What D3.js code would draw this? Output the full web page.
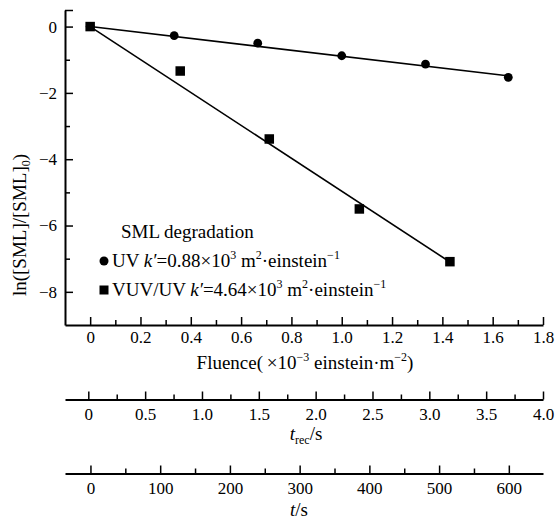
<!DOCTYPE html>
<html>
<head>
<meta charset="utf-8">
<script src="https://cdn.jsdelivr.net/npm/d3@7"></script>
<style>
  body { margin: 0; background: #fff; }
  svg text { font-family: "Liberation Serif", "Times New Roman", serif; fill: #000; }
</style>
</head>
<body>
<svg id="chart" width="558" height="520"></svg>
<script>
'use strict';

// data
const uvFluence = [0, 0.334, 0.666, 1.0, 1.333, 1.662];
const uvLn = [0, -0.27, -0.50, -0.88, -1.13, -1.53];
const vuvFluence = [0, 0.358, 0.712, 1.07, 1.43];
const vuvLn = [0, -1.34, -3.39, -5.50, -7.09];
const uvFitX = [0, 1.667];
const uvFitY = [0, -1.49];
const vuvFitX = [0, 1.43];
const vuvFitY = [0, -7.1];

// ticks
const fluenceTicks = [0, 0.2, 0.4, 0.6, 0.8, 1.0, 1.2, 1.4, 1.6, 1.8];
const fluenceMinor = [0.1, 0.3, 0.5, 0.7, 0.9, 1.1, 1.3, 1.5, 1.7];
const lnTicks = [0, -2, -4, -6, -8];
const lnMinor = [-1, -3, -5, -7];
const trecTicks = [0, 0.5, 1.0, 1.5, 2.0, 2.5, 3.0, 3.5, 4.0];
const trecMinor = [0.25, 0.75, 1.25, 1.75, 2.25, 2.75, 3.25, 3.75];
const tTicks = [0, 100, 200, 300, 400, 500, 600];
const tMinor = [50, 150, 250, 350, 450, 550];

const FONT = 17;      // tick labels
const TFONT = 19;     // titles, legend
const SUP = 12;
const MAJOR = 8;
const MINOR = 5;

const svg = d3.select("#chart");

const x = d3.scaleLinear().domain([-0.1, 1.8]).range([65, 543]);
const y = d3.scaleLinear().domain([-9, 0.5]).range([325, 10]);
const xRec = d3.scaleLinear().domain([-0.205, 4.0]).range([65, 543]);
const xT = d3.scaleLinear().domain([-36.5, 649]).range([65, 543]);

const fmtDec = d => d === 0 ? "0" : d3.format(".1f")(d);

function styleAxis(g) {
   g.attr("font-family", null);
   g.selectAll("text").attr("font-size", FONT).attr("fill", "#000")
      .style("font-family", '"Liberation Serif", "Times New Roman", serif');
   g.select(".domain").attr("stroke-width", 2).attr("stroke", "#000");
   g.selectAll(".tick line").attr("stroke-width", 1.5).attr("stroke", "#000");
}

function bottomAxis(scale, yPos, major, minor, fmt, pad) {
   const g = svg.append("g").attr("transform", `translate(0,${yPos})`);
   g.append("g")
      .call(d3.axisBottom(scale).tickValues(minor).tickSize(-MINOR).tickFormat(""))
      .call(a => a.select(".domain").remove())
      .call(styleAxis);
   g.append("g")
      .call(d3.axisBottom(scale).tickValues(major).tickSizeInner(-MAJOR).tickSizeOuter(0)
         .tickPadding(pad).tickFormat(fmt))
      .call(styleAxis);
   return g;
}

// main x axis
bottomAxis(x, 325, fluenceTicks, fluenceMinor, fmtDec, 6);

// main y axis
const yg = svg.append("g").attr("transform", "translate(65,0)");
yg.append("g")
   .call(d3.axisLeft(y).tickValues(lnMinor.concat([0.5])).tickSize(-MINOR).tickFormat(""))
   .call(a => a.select(".domain").remove())
   .call(a => a.selectAll(".tick").filter(d => d === 0.5).select("line").attr("x2", MAJOR))
   .call(styleAxis);
yg.append("g")
   .call(d3.axisLeft(y).tickValues(lnTicks).tickSizeInner(-MAJOR).tickSizeOuter(0)
      .tickPadding(8).tickFormat(d3.format("d")))
   .call(styleAxis);

// secondary axes
bottomAxis(xRec, 399.5, trecTicks, trecMinor, fmtDec, 8);
bottomAxis(xT, 473.5, tTicks, tMinor, d3.format("d"), 8);

// fit lines
const line = d3.line().x(d => x(d[0])).y(d => y(d[1]));
svg.append("path")
   .datum(uvFitX.map((v, i) => [v, uvFitY[i]]))
   .attr("d", line).attr("fill", "none").attr("stroke", "#000").attr("stroke-width", 1.6);
svg.append("path")
   .datum(vuvFitX.map((v, i) => [v, vuvFitY[i]]))
   .attr("d", line).attr("fill", "none").attr("stroke", "#000").attr("stroke-width", 1.6);

// markers
svg.append("g").selectAll("circle")
   .data(uvFluence.map((v, i) => [v, uvLn[i]]))
   .enter().append("circle")
   .attr("cx", d => x(d[0])).attr("cy", d => y(d[1])).attr("r", 4.4)
   .attr("fill", "#000");

const SQ = 9.5;
svg.append("g").selectAll("rect")
   .data(vuvFluence.map((v, i) => [v, vuvLn[i]]))
   .enter().append("rect")
   .attr("x", d => x(d[0]) - SQ / 2).attr("y", d => y(d[1]) - SQ / 2)
   .attr("width", SQ).attr("height", SQ)
   .attr("fill", "#000");

// axis titles
const t1 = svg.append("text").attr("x", 305).attr("y", 369).attr("text-anchor", "middle").attr("font-size", TFONT);
t1.append("tspan").text("Fluence(\u2009×10");
t1.append("tspan").attr("font-size", SUP).attr("dy", -8).text("−3");
t1.append("tspan").attr("dy", 8).text(" einstein·m");
t1.append("tspan").attr("font-size", SUP).attr("dy", -8).text("−2");
t1.append("tspan").attr("dy", 8).text(")");

const t2 = svg.append("text").attr("x", 306).attr("y", 440).attr("text-anchor", "middle").attr("font-size", TFONT);
t2.append("tspan").attr("font-style", "italic").text("t");
t2.append("tspan").attr("font-size", SUP).attr("dy", 4).text("rec");
t2.append("tspan").attr("dy", -4).text("/s");

const t3 = svg.append("text").attr("x", 299).attr("y", 516).attr("text-anchor", "middle").attr("font-size", TFONT);
t3.append("tspan").attr("font-style", "italic").text("t");
t3.append("tspan").text("/s");

const yl = svg.append("text").attr("transform", "translate(26,225) rotate(-90)")
   .attr("text-anchor", "middle").attr("font-size", TFONT);
yl.append("tspan").text("ln([SML]/[SML]");
yl.append("tspan").attr("font-size", SUP).attr("dy", 4).text("0");
yl.append("tspan").attr("dy", -4).text(")");

// legend
const legend = svg.append("g");
legend.append("text").attr("x", 121).attr("y", 238).attr("font-size", TFONT).text("SML degradation");

function legendLabel(yPos, prefix, value) {
   const t = legend.append("text").attr("x", 112).attr("y", yPos).attr("font-size", TFONT);
   t.append("tspan").text(prefix);
   t.append("tspan").attr("font-style", "italic").text("k′");
   t.append("tspan").text("=" + value + "×10");
   t.append("tspan").attr("font-size", SUP).attr("dy", -8).text("3");
   t.append("tspan").attr("dy", 8).text(" m");
   t.append("tspan").attr("font-size", SUP).attr("dy", -8).text("2");
   t.append("tspan").attr("dy", 8).text("·einstein");
   t.append("tspan").attr("font-size", SUP).attr("dy", -8).text("−1");
}

legend.append("circle").attr("cx", 104).attr("cy", 261).attr("r", 4.5).attr("fill", "#000");
legendLabel(267, "UV ", "0.88");

legend.append("rect").attr("x", 104 - 4.5).attr("y", 290 - 4.5).attr("width", 9).attr("height", 9).attr("fill", "#000");
legendLabel(296, "VUV/UV ", "4.64");
</script>
</body>
</html>
